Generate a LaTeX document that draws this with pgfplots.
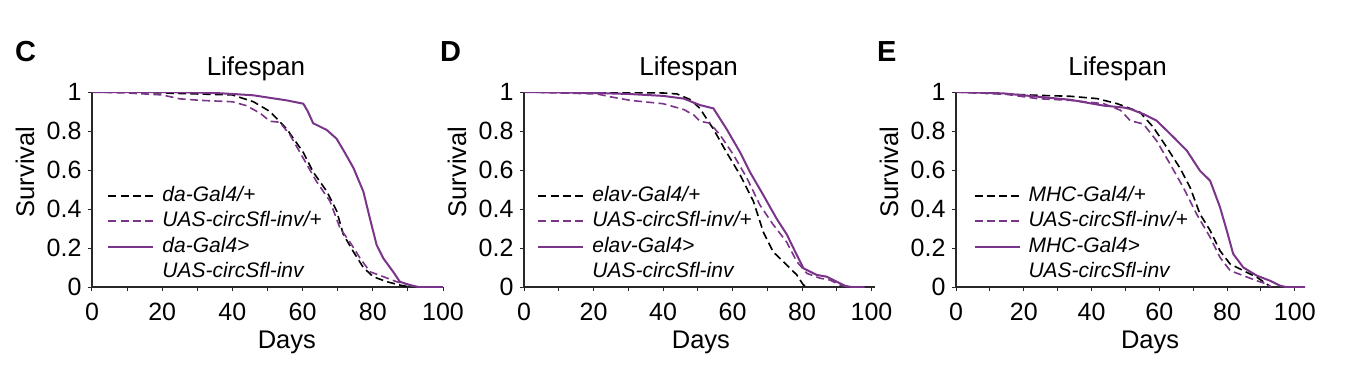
\documentclass[border=0pt]{standalone}
\usepackage{pgfplots}
\pgfplotsset{compat=1.18}
\usepackage{fontspec}
\setmainfont{Liberation Sans}
\definecolor{vio}{RGB}{122,52,137}
\definecolor{axg}{RGB}{40,40,40}

\pgfplotsset{
  lifespan/.style={
    scale only axis, width=351pt, height=195pt,
    xmin=0, ymin=0, ymax=1,
    axis x line*=bottom, axis y line*=left,
    axis line style={line width=1.5pt, axg},
    xtick={0,20,40,60,80,100},
    minor xtick={10,30,50,70,90},
    ytick={0,0.2,0.4,0.6,0.8,1},
    yticklabels={0,0.2,0.4,0.6,0.8,1},
    tick align=outside,
    major tick length=4pt, minor tick length=4pt,
    every tick/.style={line width=1pt, axg},
    /pgf/number format/assume math mode=true,
    tick label style={font=\fontsize{25}{28}\selectfont},
    xticklabel style={yshift=-9pt},
    yticklabel style={xshift=-3pt},
    label style={font=\fontsize{25.5}{28}\selectfont},
    title style={font=\fontsize{26}{28}\selectfont},
    xlabel={Days}, ylabel={Survival}, title={Lifespan},
    ylabel style={at={(axis description cs:0,0.59)}, anchor=center, yshift=67pt},
    legend style={draw=none, fill=none, anchor=north west,
      font=\fontsize{21}{24}\selectfont\itshape,
      nodes={inner sep=1pt, text height=15pt, text depth=4pt},
      row sep=4.5pt, column sep=7pt},
    legend cell align=left,
    legend image code/.code={\draw[#1] (0pt,0pt) -- (45pt,0pt);},
  },
  bdash/.style={black, line width=1.6pt, dash pattern=on 8pt off 4.3pt},
  vdash/.style={vio, line width=1.6pt, dash pattern=on 8pt off 4.3pt},
  vsolid/.style={vio, line width=2pt},
}

\begin{document}
\begin{tikzpicture}
\path (0,0) rectangle (1362pt,370pt);

% ---------------- C ----------------
\begin{axis}[lifespan, at={(92pt,83pt)}, anchor=south west, xmax=100,
  title style={at={(axis description cs:0.467,1)}, anchor=base, yshift=11pt},
  xlabel style={at={(axis description cs:0.555,0)}, anchor=base, yshift=-61pt},
  legend style={at={(axis description cs:0.035,0.533)}}]
\addplot[bdash] coordinates {(0,1) (10,1) (20,0.995) (30,0.99) (40,0.985) (46,0.95) (50.7,0.90) (55.5,0.81) (60.2,0.69) (63,0.59) (66.9,0.49) (69.7,0.39) (71.6,0.27) (74.5,0.18) (77.3,0.10) (80.1,0.053) (84,0.027) (87.7,0.01) (90.5,0)};
\addlegendentry{da-Gal4/+}
\addplot[vdash] coordinates {(0,1) (10,0.995) (20,0.985) (25,0.965) (31,0.957) (40,0.95) (44,0.93) (48,0.89) (50.7,0.85) (53.5,0.845) (56.4,0.78) (60.2,0.66) (64,0.54) (67.8,0.44) (70.7,0.30) (73.5,0.23) (76.4,0.147) (79.2,0.078) (83,0.053) (86.8,0.027) (90.6,0.01) (92,0)};
\addlegendentry{UAS-circSfl-inv/+}
\addplot[vsolid] coordinates {(0,1) (20,1) (35,0.995) (40,0.99) (46,0.983) (50.7,0.97) (55.5,0.957) (60.2,0.94) (61.5,0.90) (63,0.84) (66.9,0.805) (69.7,0.76) (72,0.69) (74.5,0.61) (77.3,0.49) (79.2,0.35) (81.1,0.215) (83,0.147) (85.8,0.078) (87.7,0.027) (90.6,0.01) (93,0) (100,0)};
\addlegendentry{da-Gal4>}
\addlegendimage{empty legend}
\addlegendentry{UAS-circSfl-inv}
\end{axis}

% ---------------- D ----------------
\begin{axis}[lifespan, at={(524pt,83pt)}, anchor=south west, xmax=101,
  title style={at={(axis description cs:0.469,1)}, anchor=base, yshift=11pt},
  xlabel style={at={(axis description cs:0.504,0)}, anchor=base, yshift=-61pt},
  legend style={at={(axis description cs:0.029,0.533)}}]
\addplot[bdash] coordinates {(0,1) (20,1) (30,0.997) (40,0.995) (44,0.99) (48,0.96) (50.6,0.916) (54.5,0.81) (58.3,0.69) (62.2,0.574) (66,0.44) (68.9,0.28) (71.7,0.18) (75.6,0.113) (78.5,0.062) (80.4,0.01) (82,0)};
\addlegendentry{elav-Gal4/+}
\addplot[vdash] coordinates {(0,1) (21,0.99) (25,0.975) (30.6,0.957) (40,0.94) (46,0.91) (49,0.88) (50.6,0.85) (53.5,0.84) (56.4,0.78) (60.2,0.68) (64.1,0.56) (67.9,0.42) (71.7,0.32) (75.6,0.23) (78.5,0.13) (81.4,0.07) (85.2,0.045) (88,0.036) (91,0.01) (93.4,0)};
\addlegendentry{UAS-circSfl-inv/+}
\addplot[vsolid] coordinates {(0,1) (20,0.995) (30,0.99) (40,0.98) (46,0.966) (50.6,0.933) (54.5,0.916) (58.3,0.81) (62.2,0.69) (65,0.59) (68.9,0.47) (72.7,0.35) (75.6,0.27) (78.5,0.164) (80.4,0.096) (84.2,0.062) (87.1,0.053) (90,0.027) (92.5,0.005) (94.4,0) (98,0)};
\addlegendentry{elav-Gal4>}
\addlegendimage{empty legend}
\addlegendentry{UAS-circSfl-inv}
\end{axis}

% ---------------- E ----------------
\begin{axis}[lifespan, at={(956pt,83pt)}, anchor=south west, xmax=103, width=349pt,
  title style={at={(axis description cs:0.463,1)}, anchor=base, yshift=11pt},
  xlabel style={at={(axis description cs:0.556,0)}, anchor=base, yshift=-61pt},
  legend style={at={(axis description cs:0.041,0.533)}}]
\addplot[bdash] coordinates {(0,1) (14,0.99) (24,0.983) (33.8,0.978) (41.7,0.966) (47.6,0.94) (51.5,0.915) (54.3,0.896) (58.2,0.82) (62.2,0.716) (66.1,0.61) (69.1,0.51) (72,0.374) (75,0.29) (77.9,0.186) (80.9,0.118) (84.8,0.084) (88.8,0.05) (91.7,0.015) (93,0)};
\addlegendentry{MHC-Gal4/+}
\addplot[vdash] coordinates {(0,1) (14,0.99) (24,0.966) (33.8,0.957) (43.6,0.94) (48.6,0.906) (51.4,0.853) (55.3,0.836) (59.2,0.75) (63.2,0.63) (67.1,0.51) (71,0.374) (75,0.255) (77.9,0.152) (80.9,0.084) (84.8,0.058) (88.8,0.032) (91.7,0.015) (93,0)};
\addlegendentry{UAS-circSfl-inv/+}
\addplot[vsolid] coordinates {(0,1) (14,0.993) (24,0.976) (33.8,0.96) (43.6,0.93) (49.6,0.92) (51.4,0.913) (55.3,0.887) (59.2,0.853) (64.1,0.77) (68.1,0.70) (72,0.596) (75,0.545) (77.9,0.41) (79.9,0.29) (81.8,0.17) (84.8,0.10) (88.8,0.058) (92.7,0.032) (95.6,0.007) (97.3,0) (103,0)};
\addlegendentry{MHC-Gal4>}
\addlegendimage{empty legend}
\addlegendentry{UAS-circSfl-inv}
\end{axis}

% panel letters
\node[anchor=base west, inner sep=0pt, font=\fontsize{29}{32}\selectfont\bfseries] at (15pt,308pt) {C};
\node[anchor=base west, inner sep=0pt, font=\fontsize{29}{32}\selectfont\bfseries] at (440pt,308pt) {D};
\node[anchor=base west, inner sep=0pt, font=\fontsize{29}{32}\selectfont\bfseries] at (877pt,308pt) {E};
\end{tikzpicture}
\end{document}
